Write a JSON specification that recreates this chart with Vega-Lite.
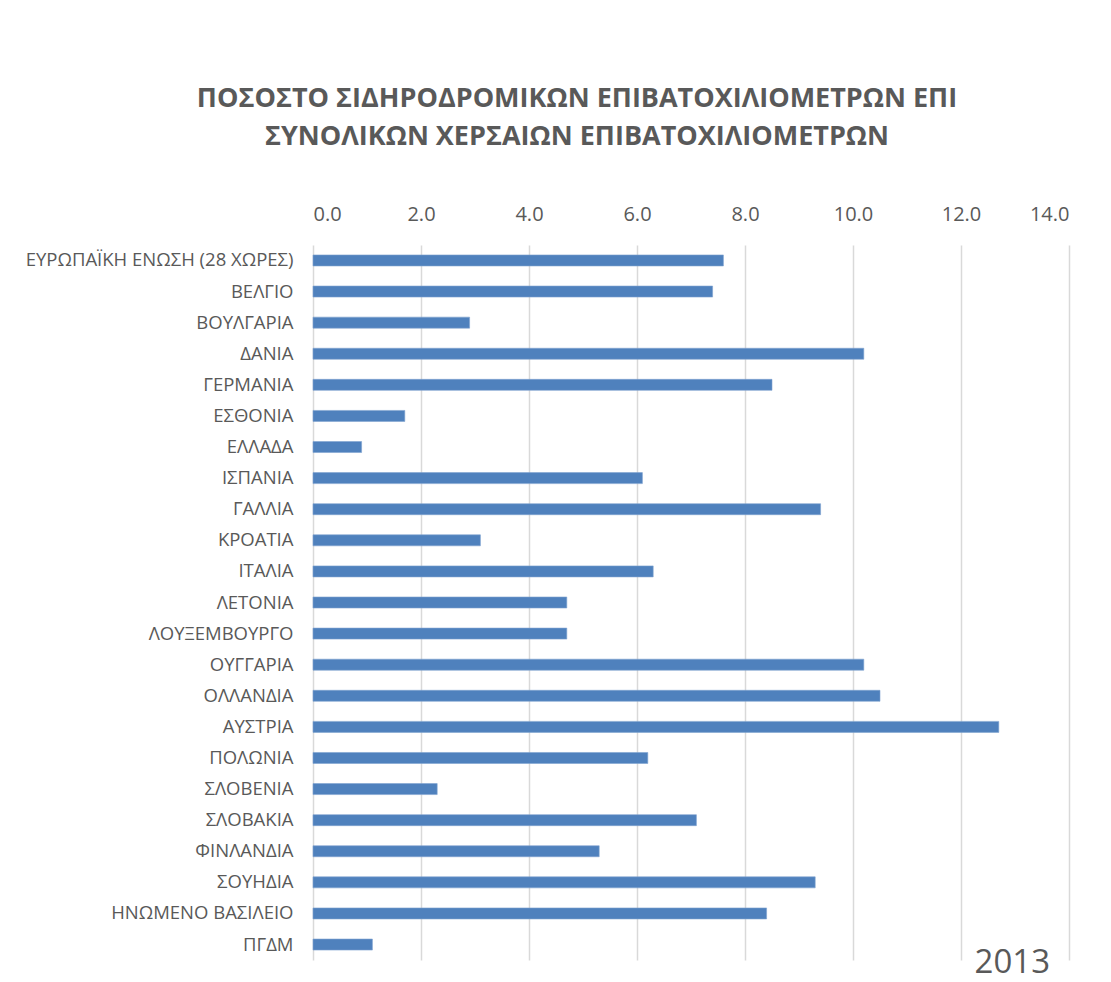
{
  "$schema": "https://vega.github.io/schema/vega-lite/v6.json",
  "width": 756,
  "height": 715,
  "autosize": {"type": "none"},
  "padding": {"left": 313, "top": 245, "right": 42, "bottom": 22},
  "background": "white",
  "title": {
    "text": ["ΠΟΣΟΣΤΟ ΣΙΔΗΡΟΔΡΟΜΙΚΩΝ ΕΠΙΒΑΤΟΧΙΛΙΟΜΕΤΡΩΝ ΕΠΙ", "ΣΥΝΟΛΙΚΩΝ ΧΕΡΣΑΙΩΝ ΕΠΙΒΑΤΟΧΙΛΙΟΜΕΤΡΩΝ"],
    "font": "Open Sans",
    "fontSize": 27,
    "fontWeight": "bold",
    "color": "#595959",
    "lineHeight": 38,
    "anchor": "middle",
    "frame": "group",
    "dx": -114,
    "offset": 53
  },
  "data": {
    "values": [
      {"country": "ΕΥΡΩΠΑΪΚΗ ΕΝΩΣΗ (28 ΧΩΡΕΣ)", "value": 7.6},
      {"country": "ΒΕΛΓΙΟ", "value": 7.4},
      {"country": "ΒΟΥΛΓΑΡΙΑ", "value": 2.9},
      {"country": "ΔΑΝΙΑ", "value": 10.2},
      {"country": "ΓΕΡΜΑΝΙΑ", "value": 8.5},
      {"country": "ΕΣΘΟΝΙΑ", "value": 1.7},
      {"country": "ΕΛΛΑΔΑ", "value": 0.9},
      {"country": "ΙΣΠΑΝΙΑ", "value": 6.1},
      {"country": "ΓΑΛΛΙΑ", "value": 9.4},
      {"country": "ΚΡΟΑΤΙΑ", "value": 3.1},
      {"country": "ΙΤΑΛΙΑ", "value": 6.3},
      {"country": "ΛΕΤΟΝΙΑ", "value": 4.7},
      {"country": "ΛΟΥΞΕΜΒΟΥΡΓΟ", "value": 4.7},
      {"country": "ΟΥΓΓΑΡΙΑ", "value": 10.2},
      {"country": "ΟΛΛΑΝΔΙΑ", "value": 10.5},
      {"country": "ΑΥΣΤΡΙΑ", "value": 12.7},
      {"country": "ΠΟΛΩΝΙΑ", "value": 6.2},
      {"country": "ΣΛΟΒΕΝΙΑ", "value": 2.3},
      {"country": "ΣΛΟΒΑΚΙΑ", "value": 7.1},
      {"country": "ΦΙΝΛΑΝΔΙΑ", "value": 5.3},
      {"country": "ΣΟΥΗΔΙΑ", "value": 9.3},
      {"country": "ΗΝΩΜΕΝΟ ΒΑΣΙΛΕΙΟ", "value": 8.4},
      {"country": "ΠΓΔΜ", "value": 1.1}
    ]
  },
  "layer": [
    {
      "mark": {"type": "bar", "color": "#4f81bd", "stroke": "#7fa3d0", "strokeWidth": 0.6},
      "encoding": {
        "y": {
          "field": "country",
          "type": "nominal",
          "sort": null,
          "scale": {
            "domain": ["ΕΥΡΩΠΑΪΚΗ ΕΝΩΣΗ (28 ΧΩΡΕΣ)", "ΒΕΛΓΙΟ", "ΒΟΥΛΓΑΡΙΑ", "ΔΑΝΙΑ", "ΓΕΡΜΑΝΙΑ", "ΕΣΘΟΝΙΑ", "ΕΛΛΑΔΑ", "ΙΣΠΑΝΙΑ", "ΓΑΛΛΙΑ", "ΚΡΟΑΤΙΑ", "ΙΤΑΛΙΑ", "ΛΕΤΟΝΙΑ", "ΛΟΥΞΕΜΒΟΥΡΓΟ", "ΟΥΓΓΑΡΙΑ", "ΟΛΛΑΝΔΙΑ", "ΑΥΣΤΡΙΑ", "ΠΟΛΩΝΙΑ", "ΣΛΟΒΕΝΙΑ", "ΣΛΟΒΑΚΙΑ", "ΦΙΝΛΑΝΔΙΑ", "ΣΟΥΗΔΙΑ", "ΗΝΩΜΕΝΟ ΒΑΣΙΛΕΙΟ", "ΠΓΔΜ"],
            "paddingInner": 0.646,
            "paddingOuter": 0.32
          },
          "axis": {
            "title": null,
            "ticks": false,
            "domain": false,
            "grid": false,
            "labelFont": "Open Sans",
            "labelFontSize": 18.5,
            "labelColor": "#595959",
            "labelPadding": 20,
            "labelLimit": 400
          }
        },
        "x": {
          "field": "value",
          "type": "quantitative",
          "scale": {"domain": [0, 14], "nice": false},
          "axis": {
            "orient": "top",
            "title": null,
            "values": [0, 2, 4, 6, 8, 10, 12, 14],
            "format": ".1f",
            "ticks": false,
            "domain": false,
            "grid": true,
            "gridColor": "#d9d9d9",
            "gridWidth": 1.5,
            "labelFont": "Open Sans",
            "labelFontSize": 20,
            "labelColor": "#595959",
            "labelPadding": 21
          }
        }
      }
    },
    {
      "data": {"values": [{"label": "2013", "pos": 12.95, "row": "ΠΓΔΜ"}]},
      "mark": {"type": "text", "font": "Open Sans", "fontSize": 33, "color": "#595959", "dy": 18},
      "encoding": {
        "x": {"field": "pos", "type": "quantitative"},
        "y": {"field": "row", "type": "nominal", "sort": null},
        "text": {"field": "label"}
      }
    }
  ],
  "config": {"view": {"stroke": null}}
}
